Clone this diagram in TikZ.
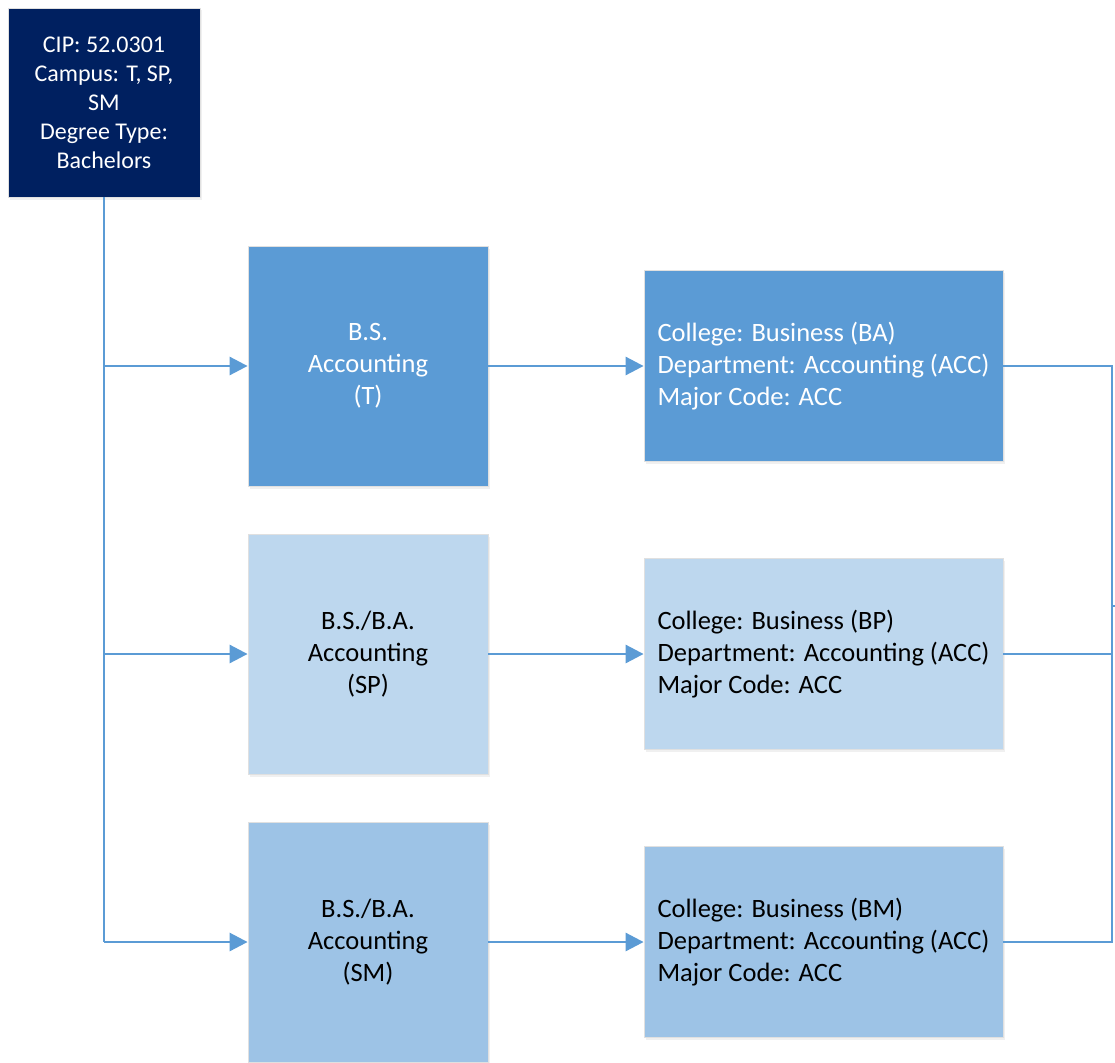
\documentclass[tikz,border=0pt]{standalone}
\usepackage{fontspec}
\setmainfont{Carlito}
\usetikzlibrary{arrows.meta,shadows}
\definecolor{navy}{HTML}{002060}
\definecolor{blueT}{HTML}{5B9BD5}
\definecolor{blueSP}{HTML}{BDD7EE}
\definecolor{blueSM}{HTML}{9DC3E6}
\tikzset{
  box/.style={draw=black!12,line width=0.8pt,rectangle,align=center,
    drop shadow={opacity=0.12,shadow xshift=1.5pt,shadow yshift=-2.5pt}},
  prg/.style={box,minimum width=240pt,minimum height=240pt,font=\fontsize{26.5}{32}\selectfont},
  col/.style={box,minimum width=359pt,minimum height=191pt,align=left,font=\fontsize{26.5}{32}\selectfont},
  conn/.style={draw=blueT,line width=2.8pt},
  arr/.style={conn,-{Triangle[length=18pt,width=18pt]}}
}
\begin{document}
\begin{tikzpicture}[x=1pt,y=-1pt]
\useasboundingbox (0,0) rectangle (1115,1062);
\node[box,fill=navy,text=white,minimum width=192pt,minimum height=189pt,font=\fontsize{24}{29}\selectfont](cip) at (104,102.5){CIP: 52.0301\\Campus: T, SP,\\SM\\Degree Type:\\Bachelors};
\node[prg,fill=blueT,text=white](prgT) at (368,366){B.S.\\Accounting\\(T)};
\node[prg,fill=blueSP](prgSP) at (368,654){B.S./B.A.\\Accounting\\(SP)};
\node[prg,fill=blueSM](prgSM) at (368,942){B.S./B.A.\\Accounting\\(SM)};
\node[col,fill=blueT,text=white](colT) at (823.5,366){College: Business (BA)\\Department: Accounting (ACC)\\Major Code: ACC};
\node[col,fill=blueSP](colSP) at (823.5,654){College: Business (BP)\\Department: Accounting (ACC)\\Major Code: ACC};
\node[col,fill=blueSM](colSM) at (823.5,942){College: Business (BM)\\Department: Accounting (ACC)\\Major Code: ACC};
% trunk and branches
\coordinate (tT) at (cip.south |- prgT.west);
\coordinate (tSP) at (cip.south |- prgSP.west);
\coordinate (tSM) at (cip.south |- prgSM.west);
\draw[conn](cip.south)--(tSM);
\draw[arr](tT)--(prgT.west);
\draw[arr](tSP)--(prgSP.west);
\draw[arr](tSM)--(prgSM.west);
\draw[arr](prgT.east)--(prgT.east -| colT.west);
\draw[arr](prgSP.east)--(prgSP.east -| colSP.west);
\draw[arr](prgSM.east)--(prgSM.east -| colSM.west);
% right bracket
\coordinate (rx) at (1112,606);
\draw[conn](colT.east)--(colT.east -| rx)--(colSM.east -| rx)--(colSM.east);
\draw[conn](colSP.east)--(colSP.east -| rx);
\draw[conn](rx)--++(3,0);
\end{tikzpicture}
\end{document}
